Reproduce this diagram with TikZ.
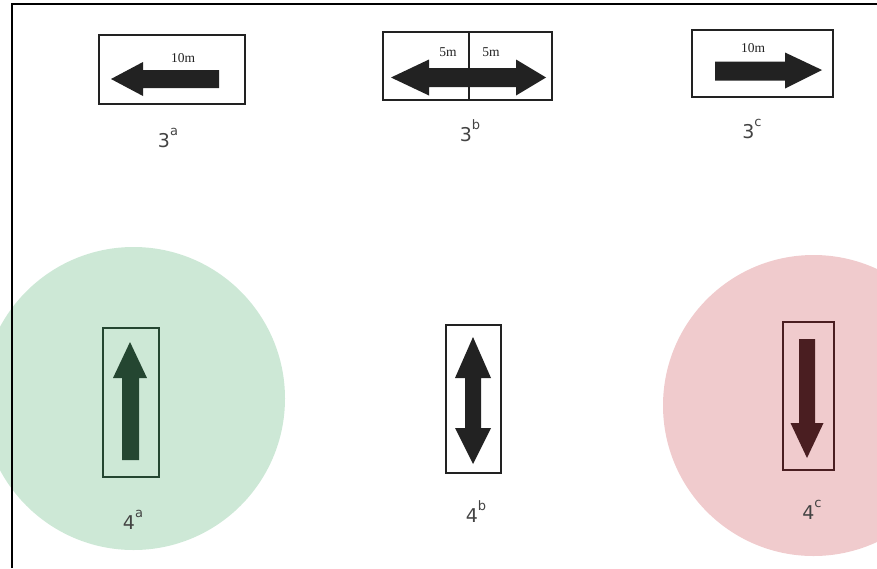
\documentclass[tikz,border=0pt]{standalone}
\usepackage{fontspec}
\setmainfont{Liberation Serif}
\newfontfamily\labelfont{DejaVu Sans}
\newcommand\tagsup[1]{\raisebox{1.15ex}{\fontsize{13}{13}\selectfont #1}}
\definecolor{ink}{HTML}{222222}
\definecolor{greenzone}{HTML}{CDE8D6}
\definecolor{greenink}{HTML}{244631}
\definecolor{redzone}{HTML}{F0CBCD}
\definecolor{redink}{HTML}{4A1E21}
\begin{document}
\begin{tikzpicture}[x=1pt,y=-1pt,
  frameline/.style={line width=2.6pt,draw=black},
  zone/.style={circle,draw=none,inner sep=0pt},
  signbox/.style={rectangle,draw=#1,line width=2.2pt,inner sep=0pt,fill=white},
  signbox/.default=ink,
  dist/.style={font=\fontsize{13.5}{13.5}\selectfont,text=ink,inner sep=0pt},
  tag/.style={font=\labelfont\fontsize{19}{19}\selectfont,text=ink!85,inner sep=0pt}]
\useasboundingbox (0,0) rectangle (877,568);
\clip (0,0) rectangle (877,568);

% coloured zones behind the lower signs
\node[zone,fill=greenzone,minimum size=303pt] (zoneA) at (133.5,398.5) {};
\node[zone,fill=redzone,minimum size=301pt] (zoneC) at (813.5,405.5) {};

% outer frame (left and top edges)
\draw[frameline] (12,568) -- (12,4) -- (877,4);

% ---- upper row: horizontal signs ----
\node[signbox,minimum width=146pt,minimum height=69pt] (s3a) at (172,69.5) {};
\fill[ink] (111,79) -- (143,62) -- (143,70) -- (219,70) -- (219,88) -- (143,88) -- (143,96) -- cycle;
\node[dist] (d3a) at (183,58) {10m};

\node[signbox,minimum width=169pt,minimum height=68pt] (s3b) at (467.5,66) {};
\draw[ink,line width=1.8pt] (469,32) -- (469,100);
\fill[ink] (391,77.5) -- (429,59.5) -- (429,68) -- (516,68) -- (516,59.5) -- (546,77.5)
  -- (516,95.5) -- (516,87) -- (429,87) -- (429,95.5) -- cycle;
\node[dist] (d3bl) at (448,52) {5m};
\node[dist] (d3br) at (491,52) {5m};

\node[signbox,minimum width=141pt,minimum height=67pt] (s3c) at (762.5,63.5) {};
\fill[ink] (715,61.5) -- (785,61.5) -- (785,52.5) -- (822,70) -- (785,88.5) -- (785,80.5) -- (715,80.5) -- cycle;
\node[dist] (d3c) at (753,48) {10m};

\node[tag] (l3a) at (168,138) {3\tagsup{a}};
\node[tag] (l3b) at (470,131) {3\tagsup{b}};
\node[tag] (l3c) at (752,129) {3\tagsup{c}};

% ---- lower row: vertical signs ----
\node[signbox=greenink,fill=none,minimum width=56pt,minimum height=149pt] (s4a) at (131,402.5) {};
\fill[greenink] (130,342) -- (147,378) -- (139,378) -- (139,460) -- (122,460) -- (122,378) -- (113,378) -- cycle;

\node[signbox,minimum width=55pt,minimum height=148pt] (s4b) at (473.5,399) {};
\fill[ink] (473,337) -- (491,378) -- (481,378) -- (481,428) -- (491,428) -- (473,464)
  -- (455,428) -- (465,428) -- (465,378) -- (455,378) -- cycle;

\node[signbox=redink,fill=none,minimum width=51pt,minimum height=148pt] (s4c) at (808.5,396) {};
\fill[redink] (799,339) -- (815,339) -- (815,423) -- (823.5,423) -- (807,458) -- (790.5,423) -- (799,423) -- cycle;

\node[tag] (l4a) at (133,520) {4\tagsup{a}};
\node[tag] (l4b) at (476,512) {4\tagsup{b}};
\node[tag] (l4c) at (812,510) {4\tagsup{c}};
\end{tikzpicture}
\end{document}
